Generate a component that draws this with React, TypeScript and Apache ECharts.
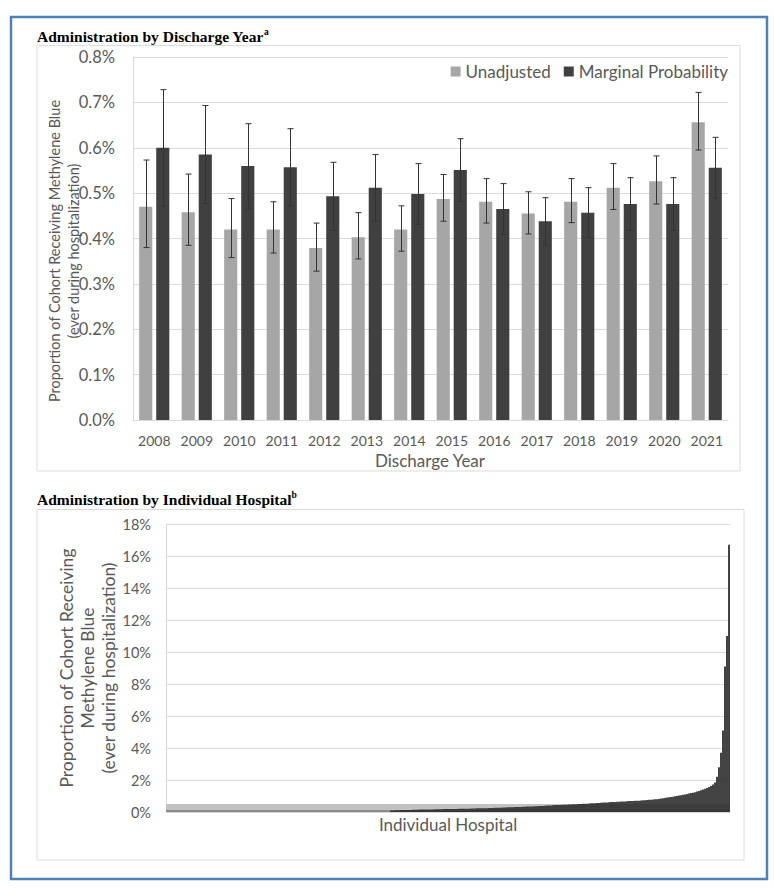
import React, { useEffect, useRef } from "react";
import * as echarts from "echarts";

const years = ["2008", "2009", "2010", "2011", "2012", "2013", "2014", "2015", "2016", "2017", "2018", "2019", "2020", "2021"];
const unadjusted = [0.470, 0.458, 0.420, 0.420, 0.379, 0.403, 0.420, 0.487, 0.481, 0.455, 0.481, 0.512, 0.526, 0.656];
const unadjLow = [0.380, 0.385, 0.358, 0.368, 0.328, 0.355, 0.372, 0.438, 0.434, 0.410, 0.435, 0.464, 0.476, 0.595];
const unadjHigh = [0.573, 0.542, 0.488, 0.481, 0.434, 0.457, 0.472, 0.541, 0.532, 0.503, 0.532, 0.565, 0.582, 0.722];
const marginal = [0.600, 0.585, 0.560, 0.557, 0.493, 0.512, 0.498, 0.551, 0.465, 0.438, 0.457, 0.476, 0.476, 0.556];
const margLow = [0.472, 0.477, 0.467, 0.472, 0.418, 0.439, 0.431, 0.482, 0.409, 0.386, 0.402, 0.418, 0.418, 0.489];
const margHigh = [0.728, 0.693, 0.653, 0.642, 0.568, 0.585, 0.565, 0.620, 0.521, 0.490, 0.512, 0.534, 0.534, 0.623];

const yearTicks = [0, 0.1, 0.2, 0.3, 0.4, 0.5, 0.6, 0.7, 0.8];
const hospitalTicks = [0, 2, 4, 6, 8, 10, 12, 14, 16, 18];

// Hospital-level proportions (%), sorted ascending as in the figure
const hospitalRates = [
  0, 0, 0, 0, 0, 0, 0, 0, 0, 0, 0, 0, 0, 0, 0, 0, 0, 0, 0, 0, 0, 0, 0, 0, 0, 0, 0, 0,
  0, 0, 0, 0, 0, 0, 0, 0, 0, 0, 0, 0, 0, 0, 0, 0, 0, 0, 0, 0, 0, 0, 0, 0, 0, 0, 0, 0,
  0, 0, 0, 0, 0, 0, 0, 0, 0, 0, 0, 0, 0, 0, 0, 0, 0, 0, 0, 0, 0, 0, 0, 0, 0, 0, 0, 0,
  0, 0, 0, 0, 0, 0, 0, 0, 0, 0, 0, 0, 0, 0, 0, 0, 0, 0, 0, 0, 0, 0, 0, 0, 0, 0, 0, 0,
  0.10, 0.10, 0.11, 0.11, 0.11, 0.12, 0.12, 0.12, 0.13, 0.13, 0.13, 0.14, 0.14, 0.14, 0.15, 0.15, 0.15, 0.15,
  0.16, 0.16, 0.16, 0.16, 0.17, 0.17, 0.17, 0.17, 0.18, 0.18, 0.18, 0.18, 0.19, 0.19, 0.19, 0.19, 0.20, 0.20, 0.20,
  0.21, 0.21, 0.21, 0.22, 0.22, 0.22, 0.23, 0.23, 0.23, 0.24, 0.24, 0.24, 0.25, 0.25, 0.25, 0.26, 0.26, 0.27, 0.27,
  0.28, 0.28, 0.29, 0.29, 0.30, 0.30, 0.31, 0.31, 0.32, 0.32, 0.33, 0.33, 0.34, 0.34, 0.35, 0.35, 0.36, 0.36, 0.37,
  0.37, 0.38, 0.39, 0.40,
  0.41, 0.41, 0.42, 0.43, 0.43, 0.44, 0.44, 0.45, 0.46, 0.46, 0.47, 0.47, 0.48, 0.49, 0.49, 0.50, 0.50, 0.51, 0.52,
  0.52, 0.53, 0.54, 0.54, 0.55, 0.56, 0.57, 0.58,
  0.59, 0.60, 0.60, 0.61, 0.62, 0.62, 0.63, 0.64, 0.64, 0.65, 0.66, 0.66, 0.67, 0.68, 0.68, 0.69, 0.70, 0.70, 0.71,
  0.72, 0.73, 0.74, 0.75, 0.76, 0.77, 0.78, 0.79, 0.80,
  0.82, 0.84, 0.86, 0.88, 0.90, 0.92, 0.94, 0.96, 0.98, 1.00, 1.03, 1.05, 1.08, 1.10, 1.13, 1.15, 1.18, 1.21,
  1.24, 1.28, 1.32, 1.36, 1.40, 1.45, 1.50, 1.56, 1.63, 1.72,
  1.85, 2.2, 2.8, 3.7, 5.1, 9.1, 11.0, 16.7,
];
const hospitals = hospitalRates.map((_, i) => "H" + (i + 1));

const FONT = "Lato, 'Open Sans', sans-serif";
const TXT = "#595959";
const GRID = "#d9d9d9";

export default function App() {
  const ref = useRef<HTMLDivElement>(null);

  useEffect(() => {
    document.body.style.margin = "0";
    const chart = echarts.init(ref.current!, null, { renderer: "svg" });

    const errData: number[][] = [];
    years.forEach((_, i) => {
      errData.push([i, unadjLow[i], unadjHigh[i], 0]);
      errData.push([i, margLow[i], margHigh[i], 1]);
    });

    const CAT_GAP = 0.29;
    const BAR_GAP = 0.3;

    const serif = "'Liberation Serif', 'Times New Roman', serif";
    const titleRich = {
      t: { fontFamily: serif, fontWeight: "bold", fontSize: 15.5, fill: "#000", lineHeight: 18 },
      s: { fontFamily: serif, fontWeight: "bold", fontSize: 9.5, fill: "#000", verticalAlign: "top", lineHeight: 18 },
    };

    const option: any = {
      animation: false,
      textStyle: { fontFamily: FONT },
      legend: {
        data: ["Unadjusted", "Marginal Probability"],
        right: 46,
        top: 63,
        padding: 0,
        itemWidth: 10,
        itemHeight: 10,
        itemGap: 13,
        icon: "rect",
        textStyle: { fontSize: 17, color: TXT, fontFamily: FONT },
      },
      grid: [
        { left: 133, right: 46, top: 57, bottom: 468, containLabel: false },
        { left: 166, right: 44, top: 524, bottom: 76, containLabel: false },
      ],
      xAxis: [
        {
          type: "category",
          gridIndex: 0,
          data: years,
          axisTick: { show: false },
          axisLine: { lineStyle: { color: GRID, width: 1 } },
          axisLabel: { color: TXT, fontSize: 14, margin: 13, fontFamily: FONT },
        },
        {
          type: "category",
          gridIndex: 1,
          data: hospitals,
          axisTick: { show: false },
          axisLabel: { show: false },
          axisLine: { lineStyle: { color: GRID, width: 1 } },
        },
      ],
      yAxis: [
        {
          type: "value",
          gridIndex: 0,
          min: yearTicks[0],
          max: yearTicks[yearTicks.length - 1],
          interval: 0.1,
          axisLine: { show: true, lineStyle: { color: GRID } },
          axisTick: { show: false },
          splitLine: { lineStyle: { color: GRID, width: 1 } },
          axisLabel: {
            color: TXT,
            fontSize: 16.5,
            margin: 18,
            fontFamily: FONT,
            formatter: (v: number) => v.toFixed(1) + "%",
          },
        },
        {
          type: "value",
          gridIndex: 1,
          min: hospitalTicks[0],
          max: hospitalTicks[hospitalTicks.length - 1],
          interval: 2,
          axisLine: { show: true, lineStyle: { color: GRID } },
          axisTick: { show: false },
          splitLine: { lineStyle: { color: GRID, width: 1 } },
          axisLabel: {
            color: TXT,
            fontSize: 14.5,
            margin: 15,
            fontFamily: FONT,
            formatter: (v: number) => Math.round(v) + "%",
          },
        },
      ],
      series: [
        {
          name: "Unadjusted",
          type: "bar",
          xAxisIndex: 0,
          yAxisIndex: 0,
          data: unadjusted,
          barGap: BAR_GAP * 100 + "%",
          barCategoryGap: CAT_GAP * 100 + "%",
          itemStyle: { color: "#a6a6a6" },
        },
        {
          name: "Marginal Probability",
          type: "bar",
          xAxisIndex: 0,
          yAxisIndex: 0,
          data: marginal,
          barGap: BAR_GAP * 100 + "%",
          barCategoryGap: CAT_GAP * 100 + "%",
          itemStyle: { color: "#404040" },
        },
        {
          name: "errors",
          type: "custom",
          xAxisIndex: 0,
          yAxisIndex: 0,
          z: 5,
          encode: { x: 0, y: [1, 2] },
          data: errData,
          renderItem: (params: any, api: any) => {
            const ci = api.value(0);
            const lo = api.value(1);
            const hi = api.value(2);
            const s = api.value(3);
            const band = api.size([1, 0])[0];
            const bw = (band * (1 - CAT_GAP)) / (2 + BAR_GAP);
            const off = ((s === 0 ? -1 : 1) * bw * (1 + BAR_GAP)) / 2;
            const a = api.coord([ci, lo]);
            const b = api.coord([ci, hi]);
            const x = Math.round(a[0] + off) + 0.5;
            const style = { stroke: "#333333", lineWidth: 1 };
            return {
              type: "group",
              children: [
                { type: "line", shape: { x1: x, y1: a[1], x2: x, y2: b[1] }, style },
                { type: "line", shape: { x1: x - 3, y1: a[1], x2: x + 3, y2: a[1] }, style },
                { type: "line", shape: { x1: x - 3, y1: b[1], x2: x + 3, y2: b[1] }, style },
              ],
            };
          },
        },
        {
          name: "band",
          type: "line",
          xAxisIndex: 1,
          yAxisIndex: 1,
          data: [],
          z: 1,
          silent: true,
          markArea: {
            silent: true,
            data: [
              [{ yAxis: 0, itemStyle: { color: "#8a8a8a" } }, { yAxis: 0.15 }],
              [{ yAxis: 0.15, itemStyle: { color: "#c2c2c2" } }, { yAxis: 0.5 }],
            ],
          },
        },
        {
          name: "Hospitals",
          type: "bar",
          xAxisIndex: 1,
          yAxisIndex: 1,
          z: 3,
          data: hospitalRates,
          barCategoryGap: "12%",
          itemStyle: { color: "#2b2b2b" },
        },
      ],
      graphic: [
        {
          type: "rect",
          shape: { x: 11, y: 17, width: 756, height: 862 },
          style: { fill: "none", stroke: "#4f81b6", lineWidth: 2.5 },
          z: 0,
        },
        {
          type: "rect",
          shape: { x: 37, y: 45.5, width: 703, height: 425.5 },
          style: { fill: "none", stroke: "#dcdcdc", lineWidth: 1 },
          z: 0,
        },
        {
          type: "rect",
          shape: { x: 37, y: 509.5, width: 707, height: 350.5 },
          style: { fill: "none", stroke: "#dcdcdc", lineWidth: 1 },
          z: 0,
        },
        {
          type: "text",
          x: 37,
          y: 36,
          style: { text: "{t|Administration by Discharge Year}{s|a}", verticalAlign: "middle", rich: titleRich },
        },
        {
          type: "text",
          x: 37,
          y: 499,
          style: { text: "{t|Administration by Individual Hospital}{s|b}", verticalAlign: "middle", rich: titleRich },
        },
        {
          type: "text",
          x: 54,
          y: 251,
          rotation: Math.PI / 2,
          style: { text: "Proportion of Cohort Receiving Methylene Blue", align: "center", verticalAlign: "middle", fontSize: 14.5, fontFamily: FONT, fill: TXT },
        },
        {
          type: "text",
          x: 73,
          y: 251,
          rotation: Math.PI / 2,
          style: { text: "(ever during hospitalization)", align: "center", verticalAlign: "middle", fontSize: 14.5, fontFamily: FONT, fill: TXT },
        },
        {
          type: "text",
          x: 430,
          y: 460,
          style: { text: "Discharge Year", align: "center", verticalAlign: "middle", fontSize: 17, fontFamily: FONT, fill: TXT },
        },
        {
          type: "text",
          x: 66,
          y: 668,
          rotation: Math.PI / 2,
          style: { text: "Proportion of Cohort Receiving", align: "center", verticalAlign: "middle", fontSize: 17.5, fontFamily: FONT, fill: TXT },
        },
        {
          type: "text",
          x: 87,
          y: 668,
          rotation: Math.PI / 2,
          style: { text: "Methylene Blue", align: "center", verticalAlign: "middle", fontSize: 17.5, fontFamily: FONT, fill: TXT },
        },
        {
          type: "text",
          x: 108,
          y: 668,
          rotation: Math.PI / 2,
          style: { text: "(ever during hospitalization)", align: "center", verticalAlign: "middle", fontSize: 17.5, fontFamily: FONT, fill: TXT },
        },
        {
          type: "text",
          x: 448,
          y: 824,
          style: { text: "Individual Hospital", align: "center", verticalAlign: "middle", fontSize: 17, fontFamily: FONT, fill: TXT },
        },
      ],
    };

    chart.setOption(option);
    return () => chart.dispose();
  }, []);

  return <div ref={ref} style={{ width: 774, height: 888 }} />;
}
